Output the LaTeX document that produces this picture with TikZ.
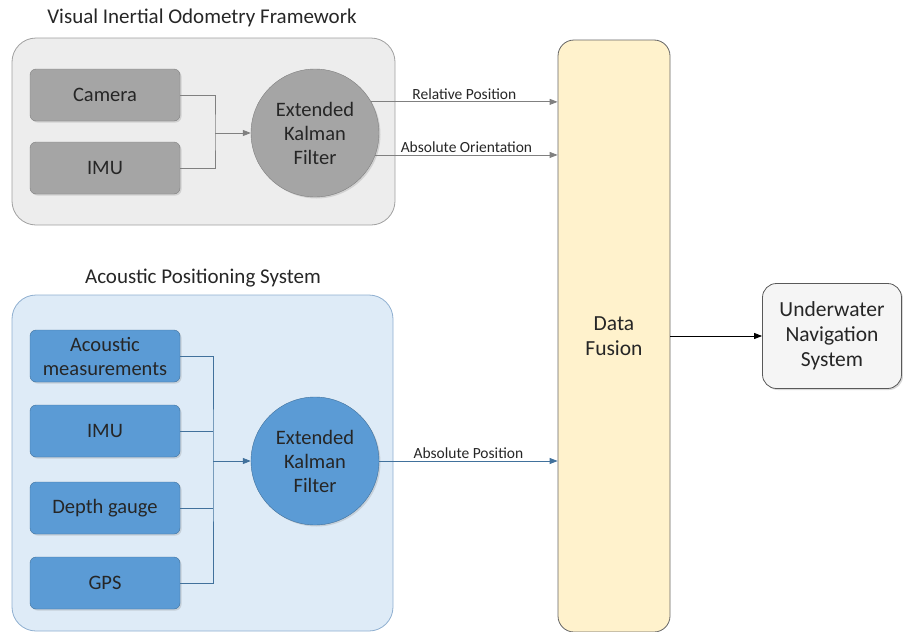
\documentclass[tikz,border=0pt]{standalone}
\usepackage{fontspec}
\setmainfont{Carlito}
\usetikzlibrary{positioning,shadows,arrows.meta}
\definecolor{vioback}{HTML}{EDEDED}
\definecolor{violine}{HTML}{A0A0A0}
\definecolor{viobox}{HTML}{A5A5A5}
\definecolor{apsback}{HTML}{DEEBF7}
\definecolor{apsline}{HTML}{8FAFD0}
\definecolor{apsbox}{HTML}{5B9BD5}
\definecolor{apsdark}{HTML}{41719C}
\definecolor{fuseback}{HTML}{FFF2CC}
\definecolor{txt}{HTML}{262626}
\tikzstyle{frame} = [rectangle, draw, rounded corners=24pt, line width=0.8pt]
\tikzstyle{heading} = [font=\fontsize{21}{24}\selectfont, text=txt]
\tikzstyle{sensor} = [rectangle, draw, rounded corners=6pt, text centered, align=center, minimum width=150pt, minimum height=52pt, font=\fontsize{20.5}{24}\selectfont, text=txt, drop shadow={opacity=0.25,shadow xshift=1.5pt,shadow yshift=-1.5pt}]
\tikzstyle{filter} = [circle, draw, align=center, minimum size=128pt, font=\fontsize{20.5}{24}\selectfont, text=txt, drop shadow={opacity=0.25,shadow xshift=1.5pt,shadow yshift=-1.5pt}]
\tikzstyle{flow} = [->, >={Triangle[length=8pt,width=6pt]}, line width=0.8pt]
\tikzstyle{tag} = [font=\fontsize{15.5}{18}\selectfont, text=txt, inner sep=2pt]

\begin{document}
\begin{tikzpicture}[x=1pt,y=-1pt]
  \useasboundingbox (0,0) rectangle (903,632);
  % visual inertial odometry
  \node[frame, fill=vioback, draw=violine, minimum width=383pt, minimum height=187pt] (vio) at (203.5,131.5) {};
  \node[heading] (viotitle) at (202,18) {Visual Inertial Odometry Framework};
  \node[sensor, fill=viobox, draw=gray] (camera) at (105,95) {Camera};
  \node[sensor, fill=viobox, draw=gray] (vimu) at (105,168) {IMU};
  \node[filter, fill=viobox, draw=gray] (vekf) at (315,133) {Extended\\Kalman\\Filter};
  % acoustic positioning
  \node[frame, fill=apsback, draw=apsline, minimum width=381pt, minimum height=336pt] (aps) at (202.5,463) {};
  \node[heading] (apstitle) at (203,278) {Acoustic Positioning System};
  \node[sensor, fill=apsbox, draw=apsdark] (acoustic) at (105,356) {Acoustic\\measurements};
  \node[sensor, fill=apsbox, draw=apsdark] (aimu) at (105,431) {IMU};
  \node[sensor, fill=apsbox, draw=apsdark] (depth) at (105,508) {Depth gauge};
  \node[sensor, fill=apsbox, draw=apsdark] (gps) at (105,583) {GPS};
  \node[filter, fill=apsbox, draw=apsdark] (aekf) at (315,461) {Extended\\Kalman\\Filter};
  % fusion and output
  \node[rectangle, draw=black!60, fill=fuseback, rounded corners=16pt, line width=0.8pt, minimum width=112pt, minimum height=592pt, align=center, font=\fontsize{21.5}{25}\selectfont, text=txt] (fuse) at (614,336) {Data\\Fusion};
  \node[rectangle, draw=black!65, fill=gray!8, rounded corners=14pt, line width=0.8pt, minimum width=139pt, minimum height=105pt, align=center, font=\fontsize{21.5}{25}\selectfont, text=txt, drop shadow={opacity=0.3,shadow xshift=1.5pt,shadow yshift=-1.5pt}] (uns) at (832,336) {Underwater\\Navigation\\System};
  \coordinate (vbus) at (215,133);
  \coordinate (abus) at (213,461);
  % connectors
  \draw[gray, line width=0.8pt] (camera.east) -| (vbus) |- (vimu.east);
  \draw[flow, gray] (vbus) -- (vekf.west);
  \draw[flow, gray] (vekf.29) -- (vekf.29 -| fuse.west) node[tag, midway, above] {Relative Position};
  \draw[flow, gray] (vekf.-20) -- (vekf.-20 -| fuse.west) node[tag, midway, above] {Absolute Orientation};
  \draw[apsdark, line width=0.8pt] (acoustic.east) -| (abus) |- (gps.east);
  \draw[apsdark, line width=0.8pt] (aimu.east) -- (aimu.east -| abus);
  \draw[apsdark, line width=0.8pt] (depth.east) -- (depth.east -| abus);
  \draw[flow, apsdark] (abus) -- (aekf.west);
  \draw[flow, apsdark] (aekf.east) -- (aekf.east -| fuse.west) node[tag, midway, above] {Absolute Position};
  \draw[flow, black] (fuse.east |- uns.west) -- (uns.west);
\end{tikzpicture}
\end{document}
